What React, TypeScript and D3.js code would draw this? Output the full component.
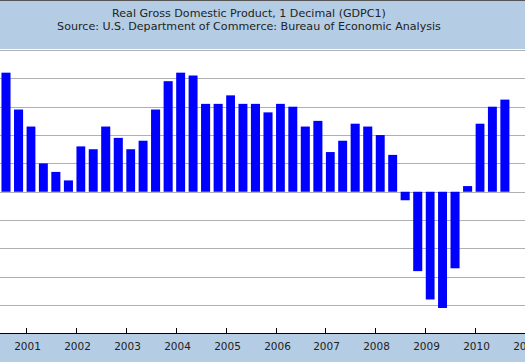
import React from "react";
import * as d3 from "d3";

// quarter start dates, 2000Q3 .. 2010Q3
const quarters: string[] = [
  "2000-07-01", "2000-10-01",
  "2001-01-01", "2001-04-01", "2001-07-01", "2001-10-01",
  "2002-01-01", "2002-04-01", "2002-07-01", "2002-10-01",
  "2003-01-01", "2003-04-01", "2003-07-01", "2003-10-01",
  "2004-01-01", "2004-04-01", "2004-07-01", "2004-10-01",
  "2005-01-01", "2005-04-01", "2005-07-01", "2005-10-01",
  "2006-01-01", "2006-04-01", "2006-07-01", "2006-10-01",
  "2007-01-01", "2007-04-01", "2007-07-01", "2007-10-01",
  "2008-01-01", "2008-04-01", "2008-07-01", "2008-10-01",
  "2009-01-01", "2009-04-01", "2009-07-01", "2009-10-01",
  "2010-01-01", "2010-04-01", "2010-07-01",
];

// percent change from a year ago
const values: number[] = [
  4.2, 2.9,
  2.3, 1.0, 0.7, 0.4,
  1.6, 1.5, 2.3, 1.9,
  1.5, 1.8, 2.9, 3.9,
  4.2, 4.1, 3.1, 3.1,
  3.4, 3.1, 3.1, 2.8,
  3.1, 3.0, 2.3, 2.5,
  1.4, 1.8, 2.4, 2.3,
  2.0, 1.3, -0.3, -2.8,
  -3.8, -4.1, -2.7, 0.2,
  2.4, 3.0, 3.25,
];

const yearTicks: number[] = [2001, 2002, 2003, 2004, 2005, 2006, 2007, 2008, 2009, 2010, 2011];
const gridValues: number[] = [-4, -3, -2, -1, 0, 1, 2, 3, 4, 5];

const titleLines = [
  "Real Gross Domestic Product, 1 Decimal (GDPC1)",
  "Source: U.S. Department of Commerce: Bureau of Economic Analysis",
];

const width = 525;
const height = 362;
const band = "#b4cde4";
const font = "'DejaVu Sans', Verdana, sans-serif";

export default function App() {
  const parse = d3.timeParse("%Y-%m-%d");
  const x = d3
    .scaleTime()
    .domain([new Date(2000, 5, 24), new Date(2011, 0, 1)])
    .range([0, width]);
  const y = d3.scaleLinear().domain([-5, 5]).range([333.5, 50]);

  const bars = quarters.map((q, i) => {
    const start = parse(q) as Date;
    const end = d3.timeMonth.offset(start, 3);
    const v = values[i];
    return {
      x: x(start) + 0.5,
      w: x(end) - x(start) - 3.5,
      y: Math.min(y(v), y(0)),
      h: Math.abs(y(v) - y(0)),
    };
  });

  return (
    <div>
      <style>{`body{margin:0}`}</style>
      <svg width={width} height={height} style={{ display: "block" }} fontFamily={font}>
        <rect x={0} y={0} width={width} height={height} fill="#fff" />
        {/* header */}
        <rect x={0} y={0} width={width} height={49} fill={band} />
        <line x1={0} x2={width} y1={0.5} y2={0.5} stroke="#555" />
        {titleLines.map((t, i) => (
          <text key={i} x={249} y={17 + i * 12.5} textAnchor="middle" fontSize={11.1} fill="#222">
            {t}
          </text>
        ))}
        {/* grid */}
        {gridValues.map((g) => (
          <line
            key={g}
            x1={0}
            x2={width}
            y1={Math.round(y(g)) + 0.5}
            y2={Math.round(y(g)) + 0.5}
            stroke="#b0b0b0"
          />
        ))}
        {/* bars */}
        {bars.map((b, i) => (
          <rect key={i} x={b.x} y={b.y} width={b.w} height={b.h} fill="#0000ff" />
        ))}
        {/* bottom axis */}
        <rect x={0} y={334} width={width} height={height - 334} fill={band} />
        <line x1={0} x2={width} y1={333.5} y2={333.5} stroke="#000" />
        {yearTicks.map((yr) => {
          const tx = Math.round(x(new Date(yr, 0, 1))) + 0.5;
          return (
            <g key={yr}>
              <line x1={tx} x2={tx} y1={328} y2={333} stroke="#000" />
              <text x={tx + 1} y={350} textAnchor="middle" fontSize={10.5} fill="#222">
                {yr}
              </text>
            </g>
          );
        })}
      </svg>
    </div>
  );
}
